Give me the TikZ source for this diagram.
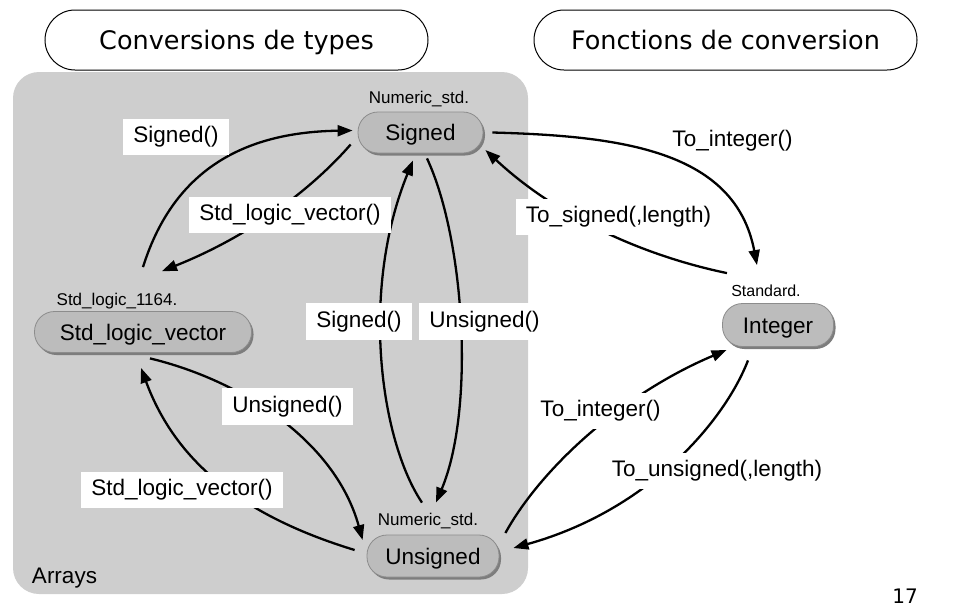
\documentclass[tikz,border=0pt]{standalone}
\usepackage{fontspec}
\setmainfont{Liberation Sans}
\newfontfamily\ttlfamily{DejaVu Sans}
\usetikzlibrary{arrows.meta,calc}
\definecolor{panelgray}{RGB}{206,206,206}
\definecolor{pillfill}{RGB}{188,188,188}
\definecolor{pillline}{RGB}{140,140,140}
\definecolor{pillshadow}{RGB}{125,125,125}
\newcommand\labfont{\fontsize{22.5}{27}\selectfont}
\newcommand\pkgfont{\fontsize{17}{20}\selectfont}
\newcommand\ttlfont{\ttlfamily\fontsize{25.5}{30}\selectfont}
\tikzset{
  pill/.style={draw=pillline, line width=0.8pt, fill=pillfill, rounded corners=20pt,
    inner sep=0pt, text height=16.2pt, text depth=0pt, font=\labfont,
    preaction={fill=pillshadow, transform canvas={xshift=2pt,yshift=-2.5pt}}},
  lbl/.style={fill=white, font=\labfont, inner xsep=10pt, inner ysep=7.5pt,
    text height=16.5pt, text depth=5pt},
  pkg/.style={font=\pkgfont, inner sep=0pt, anchor=base},
  arr/.style={line width=2.3pt, -{Triangle[length=15pt,width=11pt]}},
  ttl/.style={draw, line width=1pt, rounded corners=30pt, minimum width=383pt,
    minimum height=60pt, inner sep=0pt, text height=18.6pt, text depth=0pt, font=\ttlfont}
}
\begin{document}
\begin{tikzpicture}[x=1pt,y=-1pt]
\useasboundingbox (0,0) rectangle (974,608);
% titles
\node[ttl] (t1) at (236.5,40) {Conversions de types};
\node[ttl] (t2) at (725.5,40) {Fonctions de conversion};
% panel
\node[fill=panelgray, rounded corners=26pt, minimum width=515pt, minimum height=522pt, inner sep=0pt] (panel) at (270.5,333) {};
\node[font=\labfont, anchor=base, inner sep=0pt] (arrays) at (64.5,583) {Arrays};
% types
\node[pill, minimum width=125pt, minimum height=41pt] (sig) at (420.5,132.5) {Signed};
\node[pill, minimum width=217pt, minimum height=41pt] (slv) at (143,332) {Std\_logic\_vector};
\node[pill, minimum width=111pt, minimum height=43pt] (int) at (778,325) {Integer};
\node[pill, minimum width=132pt, minimum height=42pt] (uns) at (433,556) {Unsigned};
% packages
\node[pkg] (sigpkg) at (419,103) {Numeric\_std.};
\node[pkg] (slvpkg) at (117,305) {Std\_logic\_1164.};
\node[pkg, font=\fontsize{16}{19}\selectfont] (intpkg) at (766,296.5) {Standard.};
\node[pkg] (unspkg) at (428,525) {Numeric\_std.};
% edges
\draw[arr] ($(slv.north)+(0,-44)$) .. controls (175,165) and (250,132) .. ($(sig.west)+(-5,-2)$);
\draw[arr] ($(sig.west)+(-7,12)$) .. controls (320,180) and (260,232) .. ($(slv.north)+(19,-40)$);
\draw[arr] ($(uns.north)+(-11,-32)$) .. controls (380,440) and (360,290) .. ($(sig.south)+(-7.5,7)$);
\draw[arr] ($(sig.south)+(6.5,5)$) .. controls (465,240) and (475,410) .. ($(uns.north)+(3,-32)$);
\draw[arr] ($(slv.south)+(7,5.5)$) .. controls (240,380) and (335,440) .. ($(uns.west)+(-4,-16)$);
\draw[arr] ($(uns.west)+(-12,-6)$) .. controls (240,515) and (175,460) .. ($(slv.south)+(-2,15)$);
\draw[arr] ($(sig.east)+(9,0)$) .. controls (620,136) and (735,150) .. ($(int.north)+(-21,-38)$);
\draw[arr] ($(int.north)+(-51,-30)$) .. controls (640,255) and (555,215) .. ($(sig.east)+(2,17.5)$);
\draw[arr] ($(uns.east)+(6,-23)$) .. controls (540,470) and (620,395) .. ($(int.west)+(4.5,25)$);
\draw[arr] ($(int.south)+(-30,13.5)$) .. controls (725,420) and (650,510) .. ($(uns.east)+(14,-8)$);
% labels
\node[lbl] (lsig1) at (176,137) {Signed()};
\node[lbl] (lslv1) at (290,215) {Std\_logic\_vector()};
\node[lbl] (lsig2) at (359,321.5) {Signed()};
\node[lbl] (luns1) at (484.5,321.5) {Unsigned()};
\node[lbl] (luns2) at (287.5,406.5) {Unsigned()};
\node[lbl] (lslv2) at (182,490) {Std\_logic\_vector()};
\node[font=\labfont, anchor=base, inner sep=0pt] (ltoint1) at (732.5,146.7) {To\_integer()};
\node[lbl] (ltosig) at (618.5,217) {To\_signed(,length)};
\node[lbl] (ltoint2) at (600.5,411) {To\_integer()};
\node[lbl] (ltouns) at (717,471) {To\_unsigned(,length)};
% page number
\node[font=\ttlfamily\fontsize{20}{24}\selectfont, anchor=base, inner sep=0pt] (pnum) at (905,603) {17};
\end{tikzpicture}
\end{document}
